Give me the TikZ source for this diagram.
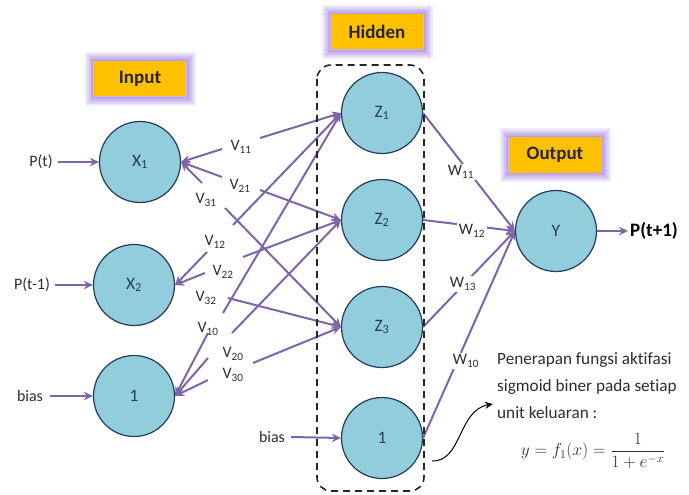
\documentclass[tikz,border=0pt]{standalone}
\usepackage{fontspec}
\setmainfont{Carlito}[Ligatures=NoCommon]
\usetikzlibrary{arrows.meta}
\definecolor{conn}{RGB}{128,100,170}
\definecolor{cfill}{RGB}{146,205,220}
\definecolor{cdraw}{RGB}{35,60,90}
\definecolor{tagfill}{RGB}{255,192,0}
\definecolor{glow}{RGB}{165,130,225}
\definecolor{txt}{RGB}{45,45,45}
\definecolor{ntxt}{RGB}{40,60,85}
\tikzset{
  neuron/.style={circle, draw=cdraw, line width=1.2pt, fill=cfill, minimum size=81pt, inner sep=0pt, text=ntxt, font=\fontsize{17.5}{19}\selectfont},
  conn/.style={draw=conn, line width=2pt, -{Stealth[length=9pt,width=8.5pt]}},
  vlab/.style={font=\fontsize{16}{18}\selectfont, text=txt, inner sep=1pt},
  wlab/.style={vlab, fill=white, inner sep=2pt},
  sidetxt/.style={font=\fontsize{16}{18}\selectfont, text=txt, inner sep=2pt},
  tag/.style={fill=tagfill, minimum width=92pt, minimum height=35pt, text=black!85, font=\bfseries\fontsize{19}{22}\selectfont,
    preaction={draw=glow, line width=19pt, opacity=0.16, rounded corners=7pt},
    preaction={draw=glow, line width=15pt, opacity=0.2, rounded corners=5pt},
    preaction={draw=glow, line width=11pt, opacity=0.25, rounded corners=4pt},
    preaction={draw=glow, line width=7pt, opacity=0.3, rounded corners=2pt},
    preaction={draw=glow, line width=3.5pt, opacity=0.4},
    preaction={draw=glow!55, line width=1.5pt}},
  note/.style={font=\fontsize{17.2}{19}\selectfont, text=txt, anchor=west, inner sep=0pt},
}
\begin{document}
\begin{tikzpicture}[x=1pt, y=-1pt]
\useasboundingbox (0,0) rectangle (689,495);

% tags
\node[tag] (tin) at (140,79) {Input};
\node[tag] (thid) at (377,32) {Hidden};
\node[tag] (tout) at (555,155) {Output};

% neurons
\node[neuron] (X1) at (140,162) {X\textsubscript{1}};
\node[neuron] (X2) at (134,285) {X\textsubscript{2}};
\node[neuron] (B1) at (134,396) {1};
\node[neuron] (Z1) at (382,113) {Z\textsubscript{1}};
\node[neuron] (Z2) at (382,220) {Z\textsubscript{2}};
\node[neuron] (Z3) at (382,327) {Z\textsubscript{3}};
\node[neuron] (B2) at (382,438) {1};
\node[neuron] (Y) at (556,231) {Y};

% input texts
\node[sidetxt] (pt) at (41,162) {P(t)};
\node[sidetxt] (pt1) at (32,285) {P(t-1)};
\node[sidetxt] (bin) at (30,396) {bias};
\node[sidetxt] (bhid) at (272,437) {bias};
\node[sidetxt, text=black, font=\bfseries\fontsize{19}{21}\selectfont] (pout) at (654,231) {P(t+1)};

\draw[conn] (pt.east) ++(3,0) -- (X1.west);
\draw[conn] (pt1.east) ++(3,0) -- (X2.west);
\draw[conn] (bin.east) ++(5,0) -- (B1.west);
\draw[conn] (bhid.east) ++(4,0) -- (B2.west);
\draw[conn] (Y.east) -- (pout.west);

% split points near the V labels
\coordinate (v11a) at (222,149); \coordinate (v11b) at (260,138);
\coordinate (v21a) at (222,177); \coordinate (v21b) at (260,190);
\coordinate (v31a) at (202,183); \coordinate (v31b) at (225,208);
\coordinate (v12a) at (207,252); \coordinate (v12b) at (233,225);
\coordinate (v22a) at (205,273); \coordinate (v22b) at (243,257);
\coordinate (v32b) at (228,298);
\coordinate (v10a) at (208,333); \coordinate (v10b) at (223,313);
\coordinate (v20a) at (208,358); \coordinate (v20b) at (232,333);
\coordinate (v30a) at (208,380); \coordinate (v30b) at (253,363);

\foreach \c in {v11a,v21a,v31a} \draw[conn] (\c) -- (X1.east);
\foreach \c in {v12a,v22a} \draw[conn] (\c) -- (X2.east);
\foreach \c in {v10a,v20a,v30a} \draw[conn] (\c) -- (B1.east);
\foreach \c in {v11b,v12b,v10b} \draw[conn] (\c) -- (Z1.west);
\foreach \c in {v21b,v22b,v20b} \draw[conn] (\c) -- (Z2.west);
\foreach \c in {v31b,v32b,v30b} \draw[conn] (\c) -- (Z3.west);

% V labels
\node[vlab] (l11) at (241,147) {V\textsubscript{11}};
\node[vlab] (l21) at (240,186) {V\textsubscript{21}};
\node[vlab] (l31) at (206,200) {V\textsubscript{31}};
\node[vlab] (l12) at (215,242) {V\textsubscript{12}};
\node[vlab] (l22) at (223,272) {V\textsubscript{22}};
\node[vlab] (l32) at (206,298) {V\textsubscript{32}};
\node[vlab] (l10) at (208,329) {V\textsubscript{10}};
\node[vlab] (l20) at (233,354) {V\textsubscript{20}};
\node[vlab] (l30) at (233,375) {V\textsubscript{30}};

% hidden to output
\draw[conn] (Z1.east) -- (Y.west);
\draw[conn] (Z2.east) -- (Y.west);
\draw[conn] (Z3.east) -- (Y.west);
\draw[conn] (B2.east) -- (Y.west);
\node[wlab] (w11) at (461,172) {W\textsubscript{11}};
\node[wlab] (w12) at (472,231) {W\textsubscript{12}};
\node[wlab] (w13) at (463,284) {W\textsubscript{13}};
\node[wlab] (w10) at (466,361) {W\textsubscript{10}};

% dashed hidden frame
\draw[black!85, line width=1.6pt, dash pattern=on 7pt off 5pt, rounded corners=14pt] (317,65) rectangle (424,491);

% note
\node[note] (n1) at (497,360) {Penerapan fungsi aktifasi};
\node[note] (n2) at (497,387) {sigmoid biner pada setiap};
\node[note] (n3) at (497,413) {unit keluaran :};
\node[font=\fontsize{18.5}{20}\selectfont, text=txt, inner sep=0pt] (eq) at (593,451) {$\displaystyle y=f_1(x)=\frac{1}{1+e^{-x}}$};
\coordinate (cstart) at (432,461);
\coordinate (cend) at (493,404);
\draw[black, line width=1pt, -{Stealth[length=8pt,width=7pt]}] (cstart) .. controls (462,462) and (458,410) .. (cend);
\end{tikzpicture}
\end{document}
